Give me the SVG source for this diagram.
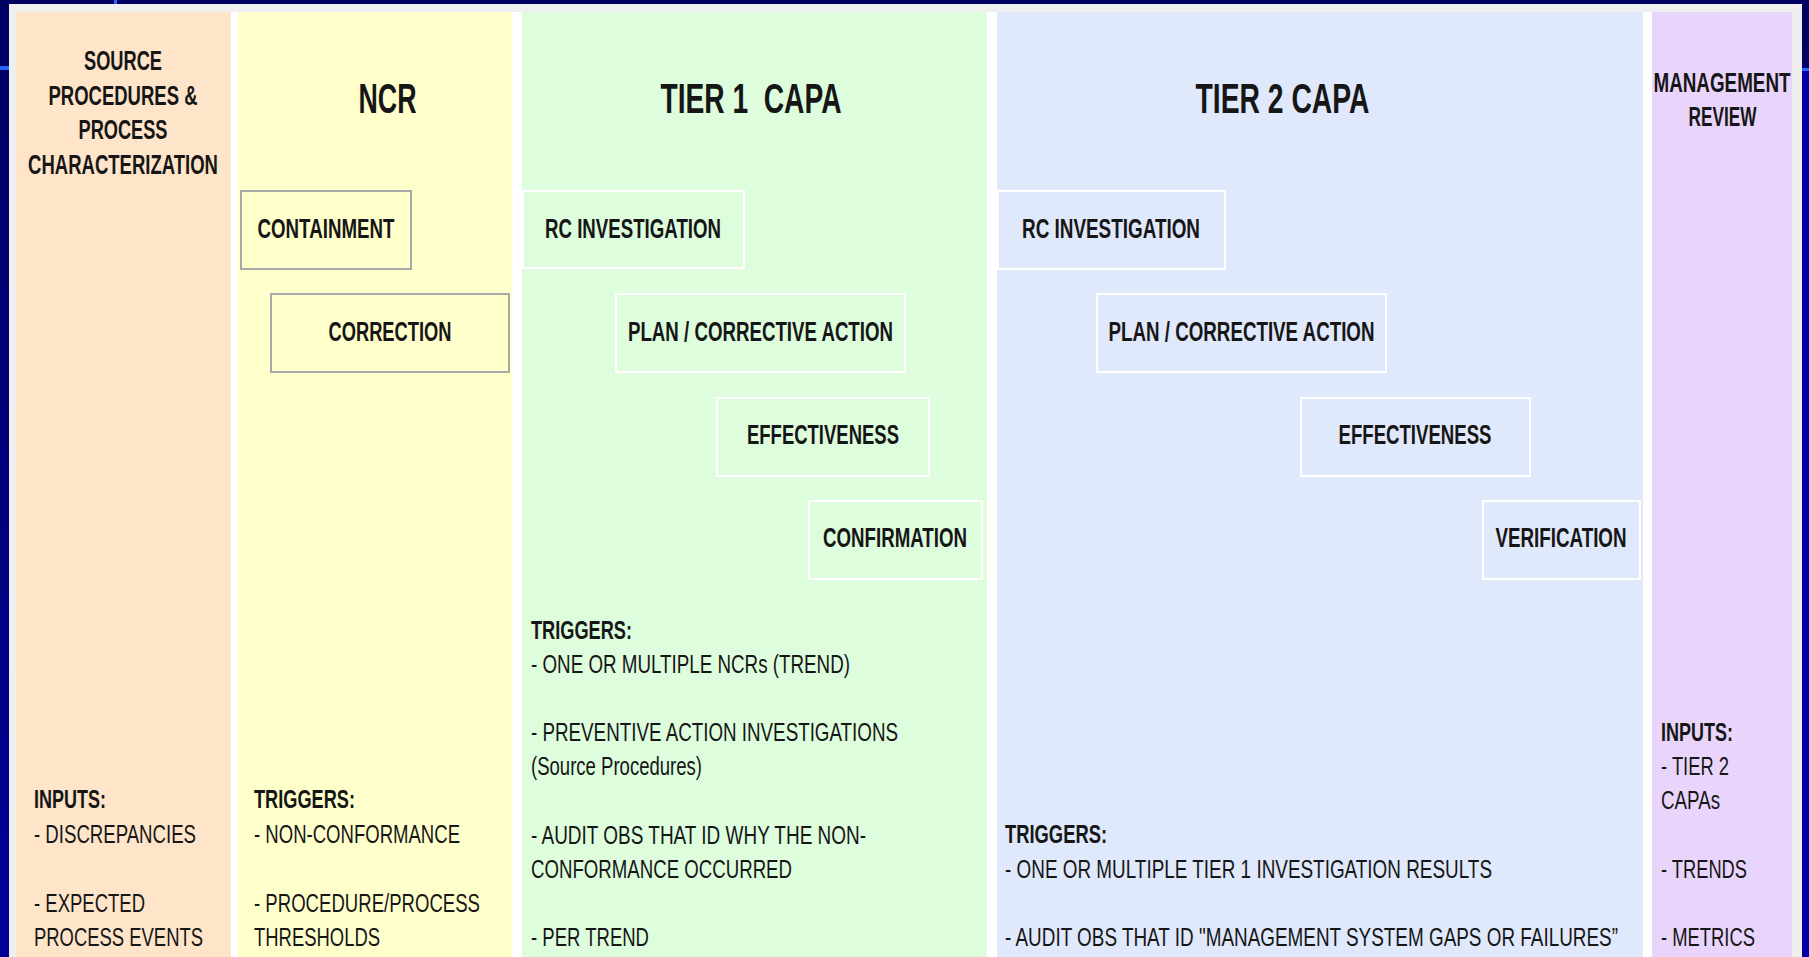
<svg xmlns="http://www.w3.org/2000/svg" width="1809" height="957" viewBox="0 0 1809 957">
  <defs>
    <linearGradient id="slideBg" x1="0" y1="0" x2="0" y2="1">
      <stop offset="0" stop-color="#000062"/>
      <stop offset="1" stop-color="#000098"/>
    </linearGradient>
    <style>
      .t { font-family: 'Liberation Sans Narrow', 'Liberation Sans', Arial, sans-serif; fill: #161616; }
      .h1 { font-size: 42px; font-weight: bold; text-anchor: middle; }
      .h2 { font-size: 27px; font-weight: bold; text-anchor: middle; }
      .lbl { font-size: 27px; font-weight: bold; text-anchor: middle; }
      .hd { font-size: 26px; font-weight: bold; }
      .it { font-size: 26px; }
      .box-ncr { fill: none; stroke: #a8a8a8; stroke-width: 2; }
      .box-capa { fill: none; stroke: #ffffff; stroke-width: 2; }
    </style>
  </defs>

  <!-- slide background and frame -->
  <rect x="0" y="0" width="1809" height="957" fill="url(#slideBg)"/>
  <rect x="1802" y="70" width="7" height="887" fill="#0000a6"/>
  <rect x="114" y="0" width="3" height="5" fill="#2a62ff"/>
  <rect x="0" y="66" width="9" height="4" fill="#2a62ff"/>
  <rect x="1802" y="68" width="7" height="3" fill="#2a62ff"/>
  <rect x="9" y="4" width="1793" height="953" fill="#efefef"/>
  <rect x="16" y="12" width="1776" height="945" fill="#ffffff"/>

  <!-- swim lanes -->
  <g id="lanes">
    <rect id="lane-source" x="16" y="12" width="215" height="945" fill="#fee5c9"/>
    <rect id="lane-ncr" x="238" y="12" width="274" height="945" fill="#ffffcc"/>
    <rect id="lane-tier1" x="522" y="12" width="465" height="945" fill="#ddfddd"/>
    <rect id="lane-tier2" x="997" y="12" width="646" height="945" fill="#e0e8fb"/>
    <rect id="lane-review" x="1652" y="12" width="140" height="945" fill="#e9d5fc"/>
  </g>

  <!-- lane headings -->
  <g id="heading-source" class="t">
    <text class="h2" x="123" y="70" textLength="78" lengthAdjust="spacingAndGlyphs">SOURCE</text>
    <text class="h2" x="123" y="104.5" textLength="149" lengthAdjust="spacingAndGlyphs">PROCEDURES &amp;</text>
    <text class="h2" x="123" y="139" textLength="89" lengthAdjust="spacingAndGlyphs">PROCESS</text>
    <text class="h2" x="123" y="173.5" textLength="190" lengthAdjust="spacingAndGlyphs">CHARACTERIZATION</text>
  </g>
  <g id="heading-ncr" class="t">
    <text class="h1" x="387.5" y="113" textLength="58" lengthAdjust="spacingAndGlyphs">NCR</text>
  </g>
  <g id="heading-tier1" class="t">
    <text class="h1" x="751" y="113" textLength="181" lengthAdjust="spacingAndGlyphs">TIER 1&#160; CAPA</text>
  </g>
  <g id="heading-tier2" class="t">
    <text class="h1" x="1282.5" y="113" textLength="174" lengthAdjust="spacingAndGlyphs">TIER 2 CAPA</text>
  </g>
  <g id="heading-review" class="t">
    <text class="h2" x="1722" y="92" textLength="137" lengthAdjust="spacingAndGlyphs">MANAGEMENT</text>
    <text class="h2" x="1722.5" y="126" textLength="68" lengthAdjust="spacingAndGlyphs">REVIEW</text>
  </g>

  <!-- NCR steps -->
  <g id="ncr-containment" class="t">
    <rect class="box-ncr" x="241" y="191" width="170" height="78"/>
    <text class="lbl" x="326" y="238" textLength="137" lengthAdjust="spacingAndGlyphs">CONTAINMENT</text>
  </g>
  <g id="ncr-correction" class="t">
    <rect class="box-ncr" x="271" y="294" width="238" height="78"/>
    <text class="lbl" x="390" y="341" textLength="123" lengthAdjust="spacingAndGlyphs">CORRECTION</text>
  </g>

  <!-- Tier 1 CAPA steps -->
  <g id="t1-rc-investigation" class="t">
    <rect class="box-capa" x="523" y="191" width="221" height="77"/>
    <text class="lbl" x="633" y="238" textLength="176" lengthAdjust="spacingAndGlyphs">RC INVESTIGATION</text>
  </g>
  <g id="t1-plan" class="t">
    <rect class="box-capa" x="616" y="294" width="289" height="78"/>
    <text class="lbl" x="760.5" y="341" textLength="265" lengthAdjust="spacingAndGlyphs">PLAN / CORRECTIVE ACTION</text>
  </g>
  <g id="t1-effectiveness" class="t">
    <rect class="box-capa" x="717" y="398" width="212" height="78"/>
    <text class="lbl" x="823" y="444" textLength="152" lengthAdjust="spacingAndGlyphs">EFFECTIVENESS</text>
  </g>
  <g id="t1-confirmation" class="t">
    <rect class="box-capa" x="809" y="501" width="173" height="78"/>
    <text class="lbl" x="895" y="547" textLength="144" lengthAdjust="spacingAndGlyphs">CONFIRMATION</text>
  </g>

  <!-- Tier 2 CAPA steps -->
  <g id="t2-rc-investigation" class="t">
    <rect class="box-capa" x="998" y="191" width="227" height="78"/>
    <text class="lbl" x="1111" y="238" textLength="178" lengthAdjust="spacingAndGlyphs">RC INVESTIGATION</text>
  </g>
  <g id="t2-plan" class="t">
    <rect class="box-capa" x="1097" y="294" width="289" height="78"/>
    <text class="lbl" x="1241.5" y="341" textLength="266" lengthAdjust="spacingAndGlyphs">PLAN / CORRECTIVE ACTION</text>
  </g>
  <g id="t2-effectiveness" class="t">
    <rect class="box-capa" x="1301" y="398" width="229" height="78"/>
    <text class="lbl" x="1415" y="444" textLength="153" lengthAdjust="spacingAndGlyphs">EFFECTIVENESS</text>
  </g>
  <g id="t2-verification" class="t">
    <rect class="box-capa" x="1483" y="501" width="157" height="78"/>
    <text class="lbl" x="1561" y="547" textLength="131" lengthAdjust="spacingAndGlyphs">VERIFICATION</text>
  </g>

  <!-- no connectors between steps -->
  <g id="connectors"/>

  <!-- inputs and triggers per lane -->
  <g id="source-inputs" class="t">
    <text class="hd" x="34" y="808" textLength="72" lengthAdjust="spacingAndGlyphs">INPUTS:</text>
    <text class="it" x="34" y="843" textLength="162" lengthAdjust="spacingAndGlyphs">- DISCREPANCIES</text>
    <text class="it" x="34" y="912" textLength="111" lengthAdjust="spacingAndGlyphs">- EXPECTED</text>
    <text class="it" x="34" y="946" textLength="169" lengthAdjust="spacingAndGlyphs">PROCESS EVENTS</text>
  </g>
  <g id="ncr-triggers" class="t">
    <text class="hd" x="254" y="808" textLength="101" lengthAdjust="spacingAndGlyphs">TRIGGERS:</text>
    <text class="it" x="254" y="843" textLength="206" lengthAdjust="spacingAndGlyphs">- NON-CONFORMANCE</text>
    <text class="it" x="254" y="912" textLength="226" lengthAdjust="spacingAndGlyphs">- PROCEDURE/PROCESS</text>
    <text class="it" x="254" y="946" textLength="126" lengthAdjust="spacingAndGlyphs">THRESHOLDS</text>
  </g>
  <g id="tier1-triggers" class="t">
    <text class="hd" x="531" y="638.5" textLength="101" lengthAdjust="spacingAndGlyphs">TRIGGERS:</text>
    <text class="it" x="531" y="672.7" textLength="319" lengthAdjust="spacingAndGlyphs">- ONE OR MULTIPLE NCRs (TREND)</text>
    <text class="it" x="531" y="741.1" textLength="367" lengthAdjust="spacingAndGlyphs">- PREVENTIVE ACTION INVESTIGATIONS</text>
    <text class="it" x="531" y="775.3" textLength="171" lengthAdjust="spacingAndGlyphs">(Source Procedures)</text>
    <text class="it" x="531" y="843.7" textLength="335" lengthAdjust="spacingAndGlyphs">- AUDIT OBS THAT ID WHY THE NON-</text>
    <text class="it" x="531" y="877.9" textLength="261" lengthAdjust="spacingAndGlyphs">CONFORMANCE OCCURRED</text>
    <text class="it" x="531" y="946.3" textLength="118" lengthAdjust="spacingAndGlyphs">- PER TREND</text>
  </g>
  <g id="tier2-triggers" class="t">
    <text class="hd" x="1005" y="843" textLength="102" lengthAdjust="spacingAndGlyphs">TRIGGERS:</text>
    <text class="it" x="1005" y="878" textLength="487" lengthAdjust="spacingAndGlyphs">- ONE OR MULTIPLE TIER 1 INVESTIGATION RESULTS</text>
    <text class="it" x="1005" y="946.3" textLength="613" lengthAdjust="spacingAndGlyphs">- AUDIT OBS THAT ID "MANAGEMENT SYSTEM GAPS OR FAILURES”</text>
  </g>
  <g id="review-inputs" class="t">
    <text class="hd" x="1661" y="741" textLength="72" lengthAdjust="spacingAndGlyphs">INPUTS:</text>
    <text class="it" x="1661" y="775.2" textLength="68" lengthAdjust="spacingAndGlyphs">- TIER 2</text>
    <text class="it" x="1661" y="809.4" textLength="59" lengthAdjust="spacingAndGlyphs">CAPAs</text>
    <text class="it" x="1661" y="877.8" textLength="86" lengthAdjust="spacingAndGlyphs">- TRENDS</text>
    <text class="it" x="1661" y="946.3" textLength="94" lengthAdjust="spacingAndGlyphs">- METRICS</text>
  </g>
</svg>
